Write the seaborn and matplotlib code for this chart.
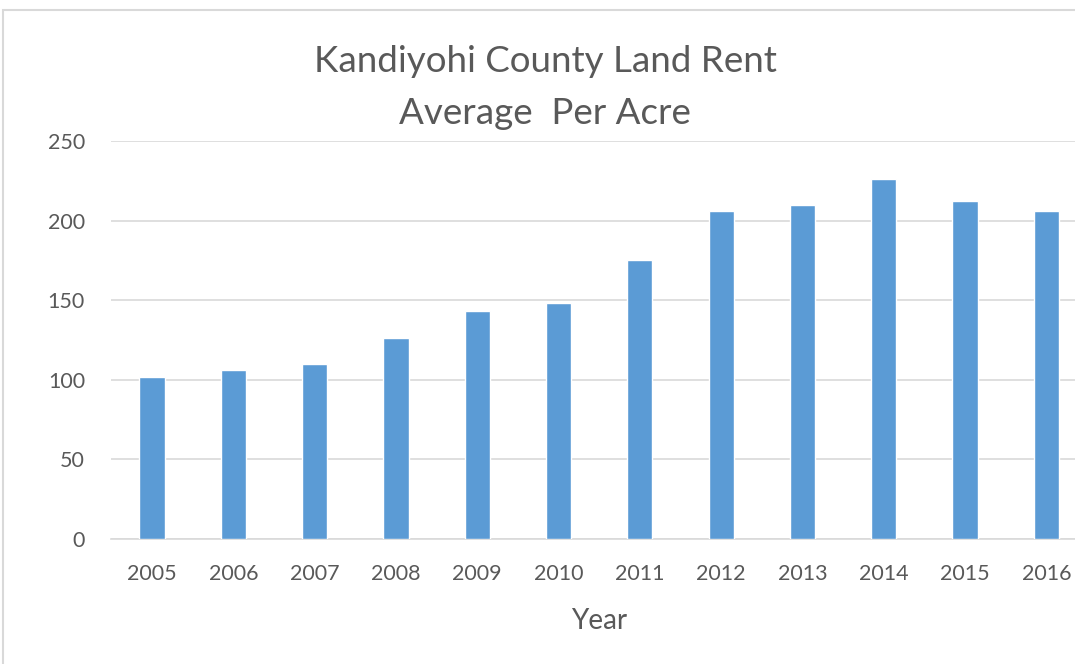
import matplotlib
matplotlib.use("Agg")
import matplotlib.pyplot as plt
import seaborn as sns
import pandas as pd
from matplotlib.patches import Rectangle

years = ["2005", "2006", "2007", "2008", "2009", "2010", "2011", "2012", "2013", "2014", "2015", "2016"]
rent = [102, 106, 110, 126, 143, 148, 175, 206, 210, 226, 212, 206]
yticks = [0, 50, 100, 150, 200, 250]

df = pd.DataFrame({"Year": years, "Rent": rent})

sns.set_theme(style="white")
plt.rcParams["font.family"] = ["Lato", "DejaVu Sans"]
text_color = "#595959"

fig = plt.figure(figsize=(10.75, 6.64), dpi=100)
ax = fig.add_axes([111.4 / 1075, 1 - 539 / 664, 975.6 / 1075, (539 - 141) / 664])

sns.barplot(data=df, x="Year", y="Rent", color="#5B9BD5", width=0.31, saturation=1, ax=ax, zorder=3)

ax.set_ylim(0, 250)
ax.set_yticks(yticks)
ax.set_yticklabels([str(t) for t in yticks])
ax.yaxis.grid(True, color="#D9D9D9", linewidth=1.2, zorder=0)
ax.xaxis.grid(False)
for s in ["top", "right", "left"]:
    ax.spines[s].set_visible(False)
ax.spines["bottom"].set_color("#D9D9D9")
ax.spines["bottom"].set_linewidth(1.2)
ax.tick_params(axis="both", length=0, colors=text_color, labelsize=15.5)
ax.tick_params(axis="y", pad=19)
ax.tick_params(axis="x", pad=18)
ax.set_ylabel("")
ax.set_xlabel("Year", fontsize=20, color=text_color, labelpad=17)

fig.text(545 / 1075, 1 - 62 / 664, "Kandiyohi County Land Rent", ha="center", va="center",
         fontsize=26.5, color=text_color)
fig.text(545 / 1075, 1 - 113 / 664, "Average  Per Acre", ha="center", va="center",
         fontsize=26.5, color=text_color)

fig.patches.append(Rectangle((3 / 1075, -0.1), 1.1, 1.1 - 10 / 664, transform=fig.transFigure,
                             fill=False, edgecolor="#D9D9D9", linewidth=1.5))

fig.savefig("out.png", dpi=100)
